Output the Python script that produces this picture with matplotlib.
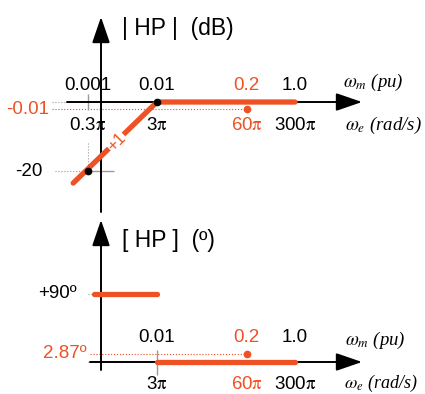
import numpy as np
import matplotlib.pyplot as plt
import matplotlib.transforms as mtransforms

plt.rcParams['font.family'] = ['Liberation Sans', 'DejaVu Sans']
plt.rcParams['mathtext.fontset'] = 'stix'

RED = '#EE5124'
GRAY = '#9a9a9a'

# frequency marks: mechanical speed (pu) and electrical speed labels
wm_ticks = [0.001, 0.01, 0.2, 1.0]
wm_labels = ['0.001', '0.01', '0.2', '1.0']
we_labels = [r'0.3$\mathrm{\pi}$', r'3$\mathrm{\pi}$', r'60$\mathrm{\pi}$', r'300$\mathrm{\pi}$']
tick_red = [False, False, True, False]

# asymptotic magnitude of HP (dB)
mag_w = [0.00061, 0.01, 1.0]
mag_db = [-23.5, 0.0, 0.0]
mag_dots_w = [0.001, 0.01]
mag_dots_db = [-20, 0]
mag_mark_w = 0.2
mag_mark_db = -0.01
slope_label = '+1'

# asymptotic phase of HP (deg)
ph_w_low = [0.00122, 0.01]
ph_low = [90, 90]
ph_w_high = [0.01, 1.0]
ph_high = [0, 0]
ph_mark_w = 0.2
ph_mark_deg = 2.87

FS = 13.5
W, H = 425, 394

fig = plt.figure(figsize=(W / 100, H / 100), dpi=100)
ax1 = fig.add_axes([0, 1 - 215 / H, 1, 215 / H])
ax2 = fig.add_axes([0, 0, 1, 179 / H])
for ax in (ax1, ax2):
    ax.set_xscale('log')
    ax.set_xlim(10 ** -4.2754, 10 ** 1.884)
    ax.axis('off')
ax1.set_ylim(-32.75, 29.57)
ax2.set_ylim(-42.35, 194.5)

arrow = dict(arrowstyle='-|>,head_length=1.6,head_width=0.55', mutation_scale=10,
             lw=1.4, color='black', shrinkA=0, shrinkB=0)
xax = 101 / W  # where the vertical axes sit

# ---- magnitude ----
b1 = mtransforms.blended_transform_factory(ax1.transAxes, ax1.transData)
ax1.annotate('', xy=(362 / W, 0), xytext=(67 / W, 0),
             xycoords=('axes fraction', 'data'), arrowprops=arrow)
ax1.annotate('', xy=(xax, 1 - 17 / 215), xytext=(xax, 1 - 212 / 215),
             xycoords='axes fraction', arrowprops=arrow)

# mark at -0.01 dB is drawn a little below the axis so it can be seen
down = mtransforms.offset_copy(ax1.transData, fig=fig, y=-7, units='dots')
ax1.plot([0.0003, mag_mark_w], [mag_mark_db, mag_mark_db], ':', color=RED, lw=0.8, transform=down)
ax1.plot([0.0003, 0.0005], [0, 0], ':', color=GRAY, lw=0.8)
ax1.plot([0.00033, mag_dots_w[0]], [mag_dots_db[0]] * 2, ':', color=GRAY, lw=0.8)
ax1.plot([mag_dots_w[0]] * 2, [-11.9, mag_dots_db[0]], ':', color=GRAY, lw=0.8)
ax1.plot([wm_ticks[0]], [0], '|', color=GRAY, ms=11, mew=1)
ax1.plot([xax], [-20], '_', color=GRAY, ms=19, mew=1, transform=b1)

ax1.plot(mag_w, mag_db, color=RED, lw=3.8, solid_capstyle='round', zorder=3)
ax1.plot(mag_dots_w, mag_dots_db, 'o', color='black', ms=4.5, zorder=4)
ax1.plot([mag_mark_w], [mag_mark_db], 'o', color=RED, ms=4.5, transform=down, zorder=4)
ax1.text(0.0026, -11.6, slope_label, color=RED, fontsize=12, rotation=45,
         ha='center', va='center', zorder=5,
         bbox=dict(facecolor='white', edgecolor='none', pad=0.5))

for w, lm, le, red in zip(wm_ticks, wm_labels, we_labels, tick_red):
    c = RED if red else 'black'
    ax1.annotate(lm, (w, 0), xytext=(0, 17), textcoords='offset pixels',
                 ha='center', va='center', fontsize=FS, color=c)
    ax1.annotate(le, (w, 0), xytext=(0, -23), textcoords='offset pixels',
                 ha='center', va='center', fontsize=FS, color=c)

ax1.annotate('-0.01', (49 / W, mag_mark_db), xycoords=('axes fraction', 'data'),
             xytext=(0, -7), textcoords='offset pixels', ha='right', va='center',
             fontsize=FS, color=RED)
ax1.annotate('-20', (43 / W, -20), xycoords=('axes fraction', 'data'),
             ha='right', va='center', fontsize=FS)
ax1.annotate(r'$\omega_m$ (pu)', (343 / W, 0), xycoords=('axes fraction', 'data'),
             xytext=(0, 20), textcoords='offset pixels', ha='left', va='center',
             fontsize=FS, family='Liberation Serif', style='italic')
ax1.annotate(r'$\omega_e$ (rad/s)', (345 / W, 0), xycoords=('axes fraction', 'data'),
             xytext=(0, -23), textcoords='offset pixels', ha='left', va='center',
             fontsize=FS, family='Liberation Serif', style='italic')
ax1.text(122 / W, 1 - 28 / 215, '| HP |  (dB)', transform=ax1.transAxes,
         ha='left', va='center', fontsize=16.5)

# ---- phase ----
b2 = mtransforms.blended_transform_factory(ax2.transAxes, ax2.transData)
ax2.annotate('', xy=(362 / W, 0), xytext=(90 / W, 0),
             xycoords=('axes fraction', 'data'), arrowprops=arrow)
ax2.annotate('', xy=(xax, 1 - 5 / 179), xytext=(xax, 1 - 155 / 179),
             xycoords='axes fraction', arrowprops=arrow)

up = mtransforms.offset_copy(ax2.transData, fig=fig, y=6, units='dots')
ax2.plot([0.00107, ph_mark_w], [ph_mark_deg] * 2, ':', color=RED, lw=0.8, transform=up)
ax2.plot([0.001, ph_w_low[0]], [90, 90], ':', color=GRAY, lw=0.8)
ax2.plot([0.001, 0.0012], [0, 0], ':', color=GRAY, lw=0.8)
ax2.plot([wm_ticks[1]], [0], '|', color=GRAY, ms=18, mew=1)

ax2.plot(ph_w_low, ph_low, color=RED, lw=3.8, solid_capstyle='round', zorder=3)
ax2.plot(ph_w_high, ph_high, color=RED, lw=3.8, solid_capstyle='round', zorder=3)
ax2.plot([ph_mark_w], [ph_mark_deg], 'o', color=RED, ms=4.5, transform=up, zorder=4)

for w, lm, le, red in list(zip(wm_ticks, wm_labels, we_labels, tick_red))[1:]:
    c = RED if red else 'black'
    ax2.annotate(lm, (w, 0), xytext=(0, 24), textcoords='offset pixels',
                 ha='center', va='center', fontsize=FS, color=c)
    ax2.annotate(le, (w, 0), xytext=(0, -23), textcoords='offset pixels',
                 ha='center', va='center', fontsize=FS, color=c)

ax2.annotate('+90º', (77 / W, 90), xycoords=('axes fraction', 'data'),
             ha='right', va='center', fontsize=FS)
ax2.annotate('2.87º', (87 / W, ph_mark_deg), xycoords=('axes fraction', 'data'),
             xytext=(0, 6), textcoords='offset pixels', ha='right', va='center',
             fontsize=FS, color=RED)
ax2.annotate(r'$\omega_m$ (pu)', (345 / W, 0), xycoords=('axes fraction', 'data'),
             xytext=(0, 22), textcoords='offset pixels', ha='left', va='center',
             fontsize=FS, family='Liberation Serif', style='italic')
ax2.annotate(r'$\omega_e$ (rad/s)', (344 / W, 0), xycoords=('axes fraction', 'data'),
             xytext=(0, -21), textcoords='offset pixels', ha='left', va='center',
             fontsize=13, family='Liberation Serif', style='italic')
ax2.text(122 / W, 1 - 25 / 179, '[ HP ]  (º)', transform=ax2.transAxes,
         ha='left', va='center', fontsize=16.5)

fig.savefig('out.png', dpi=100)
